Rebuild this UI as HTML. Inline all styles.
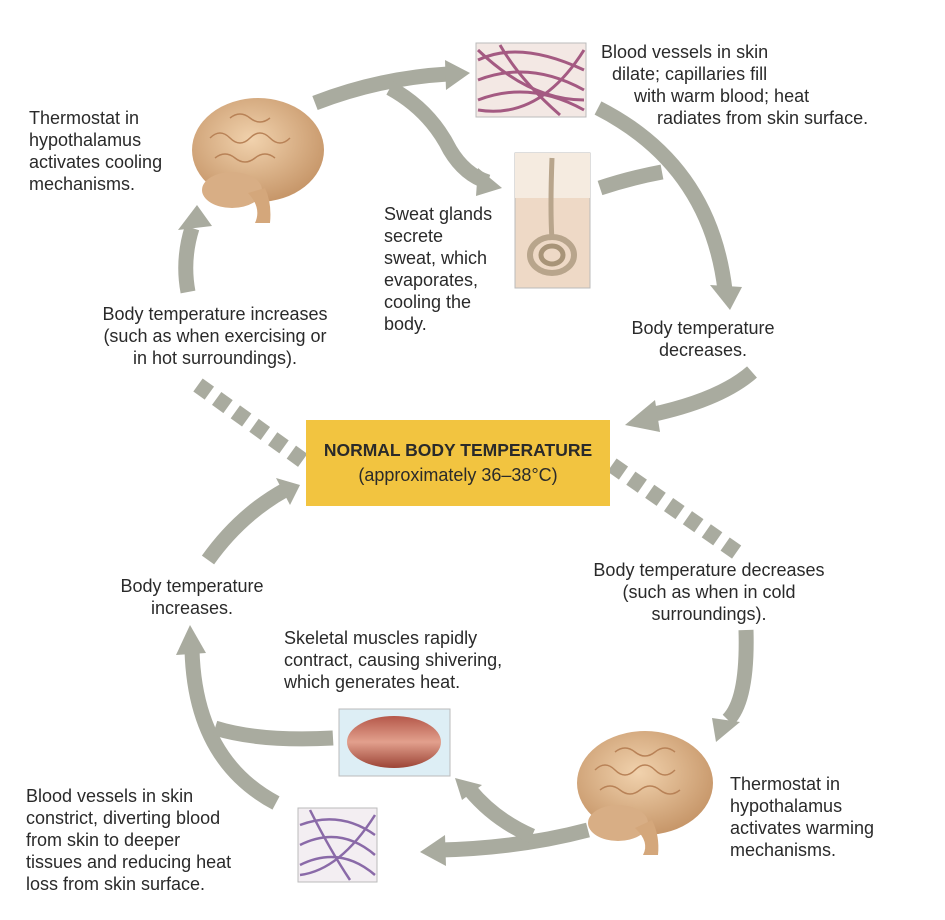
<!DOCTYPE html>
<html><head><meta charset="utf-8"><style>
html,body{margin:0;padding:0;background:#fff;}
svg{display:block;}
text{font-family:"Liberation Sans",sans-serif;font-size:18px;fill:#2a2a2a;}
</style></head><body>
<svg width="945" height="920" viewBox="0 0 945 920" xmlns="http://www.w3.org/2000/svg">
<defs>
<radialGradient id="br" cx="45%" cy="40%" r="60%"><stop offset="0" stop-color="#f1d2ad"/><stop offset="1" stop-color="#c7976a"/></radialGradient>
<linearGradient id="mu" x1="0" y1="0" x2="0" y2="1"><stop offset="0" stop-color="#b5584a"/><stop offset=".5" stop-color="#e2a08d"/><stop offset="1" stop-color="#9c4436"/></linearGradient>
</defs>
<g fill="none" stroke="#a9ab9f" stroke-width="15">
<path d="M188 292 Q182 260 192 228"/>
<path d="M315 103 Q380 78 448 74"/>
<path d="M390 88 Q430 110 450 150 Q465 175 488 182"/>
<path d="M598 108 Q710 165 725 290"/>
<path d="M600 188 Q630 178 662 172"/>
<path d="M752 372 Q720 400 650 415"/>
<path d="M198 385 L305 462" stroke-dasharray="14 9" stroke-width="16"/>
<path d="M612 465 L738 553" stroke-dasharray="14 9" stroke-width="16"/>
<path d="M746 630 Q748 700 728 720"/>
<path d="M588 830 Q520 848 440 850"/>
<path d="M532 836 Q495 820 470 790"/>
<path d="M276 803 Q195 760 192 650"/>
<path d="M333 738 Q260 742 215 728"/>
<path d="M208 560 Q240 515 285 490"/>
</g>
<g fill="#a9ab9f">
<polygon points="178,230 212,226 197,205"/>
<polygon points="445,60 470,73 446,90"/>
<polygon points="478,168 502,188 476,196"/>
<polygon points="710,285 742,287 730,310"/>
<polygon points="655,400 625,425 660,432"/>
<polygon points="712,718 740,722 716,742"/>
<polygon points="445,835 420,852 446,866"/>
<polygon points="462,800 455,778 482,785"/>
<polygon points="176,655 206,653 190,625"/>
<polygon points="276,478 300,485 290,505"/>
</g>
<rect x="306" y="420" width="304" height="86" fill="#f2c440"/>
<text x="458" y="456" text-anchor="middle" style="font-weight:bold;font-size:17.5px">NORMAL BODY TEMPERATURE</text>
<text x="458" y="481" text-anchor="middle">(approximately 36–38°C)</text>
<g>
<ellipse cx="258" cy="150" rx="66" ry="52" fill="url(#br)"/>
<ellipse cx="232" cy="190" rx="30" ry="18" fill="#d8ae85"/>
<path d="M248 193 Q262 208 255 223 L270 223 Q272 203 265 188Z" fill="#d4a77b"/>
<path d="M210 138 q10-10 20 0 t20 0 t20 0 t20 0 M215 158 q10-8 20 0 t20 0 t20 0 M230 118 q10-8 20 0 t20 0" stroke="#b88257" stroke-width="1.5" fill="none"/>
</g>
<g>
<ellipse cx="645" cy="783" rx="68" ry="52" fill="url(#br)"/>
<ellipse cx="618" cy="823" rx="30" ry="18" fill="#d8ae85"/>
<path d="M635 828 Q650 842 643 855 L658 855 Q660 836 652 820Z" fill="#d4a77b"/>
<path d="M595 770 q10-10 20 0 t20 0 t20 0 t20 0 M600 790 q10-8 20 0 t20 0 t20 0 t20 0 M615 752 q10-8 20 0 t20 0 t20 0" stroke="#b88257" stroke-width="1.5" fill="none"/>
</g>
<rect x="476" y="43" width="110" height="74" fill="#f3e8e4" stroke="#bbb"/>
<g stroke="#a45a82" stroke-width="3" fill="none">
<path d="M478 60 Q520 40 584 70"/><path d="M478 80 Q530 60 584 90"/><path d="M478 100 Q530 80 584 110"/>
<path d="M478 110 Q540 120 584 50"/><path d="M478 50 Q530 100 584 100"/><path d="M500 45 Q520 80 560 115"/>
</g>
<rect x="515" y="153" width="75" height="135" fill="#eed9c6" stroke="#bbb"/>
<rect x="515" y="153" width="75" height="45" fill="#f5ebe0"/>
<path d="M552 158 Q550 210 552 240" stroke="#b8a58c" stroke-width="5" fill="none"/>
<ellipse cx="552" cy="255" rx="22" ry="18" fill="none" stroke="#b8a58c" stroke-width="6"/>
<ellipse cx="552" cy="255" rx="11" ry="9" fill="none" stroke="#a89478" stroke-width="5"/>
<rect x="339" y="709" width="111" height="67" fill="#ddeef5" stroke="#bbb"/>
<ellipse cx="394" cy="742" rx="47" ry="26" fill="url(#mu)"/>
<rect x="298" y="808" width="79" height="74" fill="#f3eef2" stroke="#bbb"/>
<g stroke="#8a6aa8" stroke-width="2.5" fill="none">
<path d="M300 825 Q340 810 375 835"/><path d="M300 845 Q340 825 375 855"/><path d="M300 865 Q340 845 375 875"/>
<path d="M300 875 Q340 870 375 815"/><path d="M310 810 Q330 850 350 880"/>
</g>
<text x="29" y="124">Thermostat in</text>
<text x="29" y="146">hypothalamus</text>
<text x="29" y="168">activates cooling</text>
<text x="29" y="190">mechanisms.</text>
<text x="601" y="58">Blood vessels in skin</text>
<text x="612" y="80">dilate; capillaries fill</text>
<text x="634" y="102">with warm blood; heat</text>
<text x="657" y="124">radiates from skin surface.</text>
<text x="384" y="220">Sweat glands</text>
<text x="384" y="242">secrete</text>
<text x="384" y="264">sweat, which</text>
<text x="384" y="286">evaporates,</text>
<text x="384" y="308">cooling the</text>
<text x="384" y="330">body.</text>
<text x="215" y="320" text-anchor="middle">Body temperature increases</text>
<text x="215" y="342" text-anchor="middle">(such as when exercising or</text>
<text x="215" y="364" text-anchor="middle">in hot surroundings).</text>
<text x="703" y="334" text-anchor="middle">Body temperature</text>
<text x="703" y="356" text-anchor="middle">decreases.</text>
<text x="709" y="576" text-anchor="middle">Body temperature decreases</text>
<text x="709" y="598" text-anchor="middle">(such as when in cold</text>
<text x="709" y="620" text-anchor="middle">surroundings).</text>
<text x="192" y="592" text-anchor="middle">Body temperature</text>
<text x="192" y="614" text-anchor="middle">increases.</text>
<text x="284" y="644">Skeletal muscles rapidly</text>
<text x="284" y="666">contract, causing shivering,</text>
<text x="284" y="688">which generates heat.</text>
<text x="26" y="802">Blood vessels in skin</text>
<text x="26" y="824">constrict, diverting blood</text>
<text x="26" y="846">from skin to deeper</text>
<text x="26" y="868">tissues and reducing heat</text>
<text x="26" y="890">loss from skin surface.</text>
<text x="730" y="790">Thermostat in</text>
<text x="730" y="812">hypothalamus</text>
<text x="730" y="834">activates warming</text>
<text x="730" y="856">mechanisms.</text>
</svg>
</body></html>
